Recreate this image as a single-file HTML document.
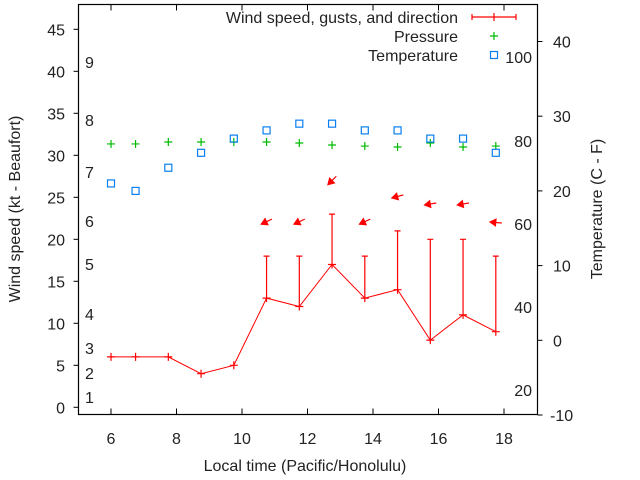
<!DOCTYPE html>
<html><head><meta charset="utf-8"><style>
html,body{margin:0;padding:0;background:#fff}
svg{display:block;font-family:"Liberation Sans",sans-serif}
</style></head><body>
<svg id="chart" width="640" height="480" viewBox="0 0 640 480">
<g id="axes"></g>
<g id="marks"></g>
</svg>
<script>
const hours = [6, 6.75, 7.75, 8.75, 9.75, 10.75, 11.75, 12.75, 13.75, 14.75, 15.75, 16.75, 17.75];
const windSpeed = [6, 6, 6, 4, 5, 13, 12, 17, 13, 14, 8, 11, 9];
const windGust = [6, 6, 6, 4, 5, 18, 18, 23, 18, 21, 20, 20, 18];
const pressure = [31.35, 31.35, 31.58, 31.58, 31.58, 31.58, 31.46, 31.23, 31.1, 30.99, 31.46, 30.99, 31.1];
const temperatureC = [21.0, 20.0, 23.1, 25.1, 27.0, 28.1, 29.0, 29.0, 28.1, 28.1, 27.0, 27.0, 25.1];
const arrowHours = [10.75, 11.75, 12.75, 13.75, 14.75, 15.75, 16.75, 17.75];
const arrowLevel = [22.1, 22.1, 27.0, 22.1, 25.1, 24.2, 24.2, 22.0];
const windDir = [65, 65, 45, 65, 75, 80, 80, 95];
const xTicks = [6, 8, 10, 12, 14, 16, 18];
const yTicks = [0, 5, 10, 15, 20, 25, 30, 35, 40, 45];
const y2Ticks = [-10, 0, 10, 20, 30, 40];
const beaufortLabels = ["1","2","3","4","5","6","7","8","9"];
const beaufortY = [397, 373, 348, 314, 264, 221, 172, 120, 62];
const fahrenheitLabels = ["20","40","60","80","100"];
const fahrenheitY = [390, 307, 224, 141, 57];

const L=78.5,R=537.5,T=4.5,B=414.5;
const FS=16;
const X = v => 111 + (v-6)*32.75;
const Y = v => 407.3 - v*8.4;
const Y2 = v => 415 - (v+10)*7.47;
const NS="http://www.w3.org/2000/svg";
function mk(parent, tag, attrs, text){const e=document.createElementNS(NS,tag);for(const k in attrs)e.setAttribute(k,attrs[k]);if(text!==undefined)e.textContent=text;parent.appendChild(e);return e;}
const axes=document.getElementById('axes'), marks=document.getElementById('marks');

let f=mk(axes,'rect',{x:L,y:T,width:R-L,height:B-T,fill:'none',stroke:'#000','stroke-width':1.2});


xTicks.forEach(v=>{
  const x=X(v);
  let t=mk(axes,'path',{d:`M${x},${B}v-6M${x},${T}v6`,stroke:'#000'});
  
  
  let l=mk(axes,'text',{x:x,y:444,'font-size':FS,'text-anchor':'middle',fill:'#222'},v);
  
  
});
yTicks.forEach(v=>{
  const y=Y(v);
  let t=mk(axes,'path',{d:`M${L},${y}h-5`,stroke:'#000'});
  
  
  let l=mk(axes,'text',{x:65,y:y+6,'font-size':FS,'text-anchor':'end',fill:'#222'},v);
  
  
});
y2Ticks.forEach(v=>{
  const y=Y2(v);
  let t=mk(axes,'path',{d:`M${R},${y}h5`,stroke:'#000'});
  
  
  let l=mk(axes,'text',{x:v<0?550:553,y:y+6,'font-size':FS,'text-anchor':'start',fill:'#222'},v);
  
  
});
beaufortLabels.forEach((s,i)=>{
  let l=mk(axes,'text',{x:85,y:beaufortY[i]+6,'font-size':FS,fill:'#222'},s);
  
  
});
fahrenheitLabels.forEach((s,i)=>{
  let l=mk(axes,'text',{x:532,y:fahrenheitY[i]+6,'font-size':FS,'text-anchor':'end',fill:'#222'},s);
  
  
});
let xt=mk(axes,'text',{x:305,y:471,'font-size':FS,'text-anchor':'middle',fill:'#222'},'Local time (Pacific/Honolulu)');


let yt=mk(axes,'text',{transform:'translate(20,209) rotate(-90)','font-size':FS,'text-anchor':'middle',fill:'#222'},'Wind speed (kt - Beaufort)');


let y2t=mk(axes,'text',{transform:'translate(602,209) rotate(-90)','font-size':FS,'text-anchor':'middle',fill:'#222'},'Temperature (C - F)');



let pts=hours.map((h,i)=>X(h)+','+Y(windSpeed[i])).join(' ');
let wl=mk(marks,'polyline',{points:pts,fill:'none',stroke:'#f00','stroke-width':1});


hours.forEach((h,i)=>{
  const x=X(h),y=Y(windSpeed[i]),g=Y(windGust[i]);
  let p=mk(marks,'path',{d:`M${x-4},${y}h8M${x},${y-4}v8`+(windGust[i]>windSpeed[i]?`M${x},${y}V${g}M${x-3},${g}h6`:''),stroke:'#f00','stroke-width':1.2,fill:'none'});
  
  
  let pr=mk(marks,'path',{d:`M${x-4},${Y(pressure[i])}h8M${x},${Y(pressure[i])-4}v8`,stroke:'#0b0','stroke-width':1.2});
  
  
  let tp=mk(marks,'rect',{x:X(h)-3.5,y:Y2(temperatureC[i])-3.5,width:7,height:7,fill:'none',stroke:'#0a7ff0','stroke-width':1.2});
  
  
});
arrowHours.forEach((h,i)=>{
  const cx=X(h),cy=Y(arrowLevel[i]),a=windDir[i]*Math.PI/180;
  const ux=Math.sin(a),uy=-Math.cos(a);
  const tx=cx+6*ux,ty=cy+6*uy,hx=cx-6*ux,hy=cy-6*uy;
  const px=-uy,py=ux;
  let ar=mk(marks,'g',{});
  
  
  mk(ar,'line',{x1:tx,y1:ty,x2:hx,y2:hy,stroke:'#f00','stroke-width':1.2});
  mk(ar,'polygon',{points:`${hx},${hy} ${hx+6*ux+3.5*px},${hy+6*uy+3.5*py} ${hx+6*ux-3.5*px},${hy+6*uy-3.5*py}`,fill:'#f00',stroke:'#f00','stroke-width':1});
});

const leg=[['Wind speed, gusts, and direction',17],['Pressure',36],['Temperature',55]];
leg.forEach((e,i)=>{
  let t=mk(axes,'text',{x:458,y:e[1]+6,'font-size':FS,'text-anchor':'end',fill:'#222'},e[0]);
  
  
});
let l1=mk(axes,'path',{d:'M472,17h44M472,14v6M516,14v6M494,13v8',stroke:'#f00','stroke-width':1.2});


let l2=mk(axes,'path',{d:'M490,36h8M494,32v8',stroke:'#0b0','stroke-width':1.2});


let l3=mk(axes,'rect',{x:490.5,y:51.5,width:7,height:7,fill:'none',stroke:'#0a7ff0','stroke-width':1.2});


</script>
</body></html>
